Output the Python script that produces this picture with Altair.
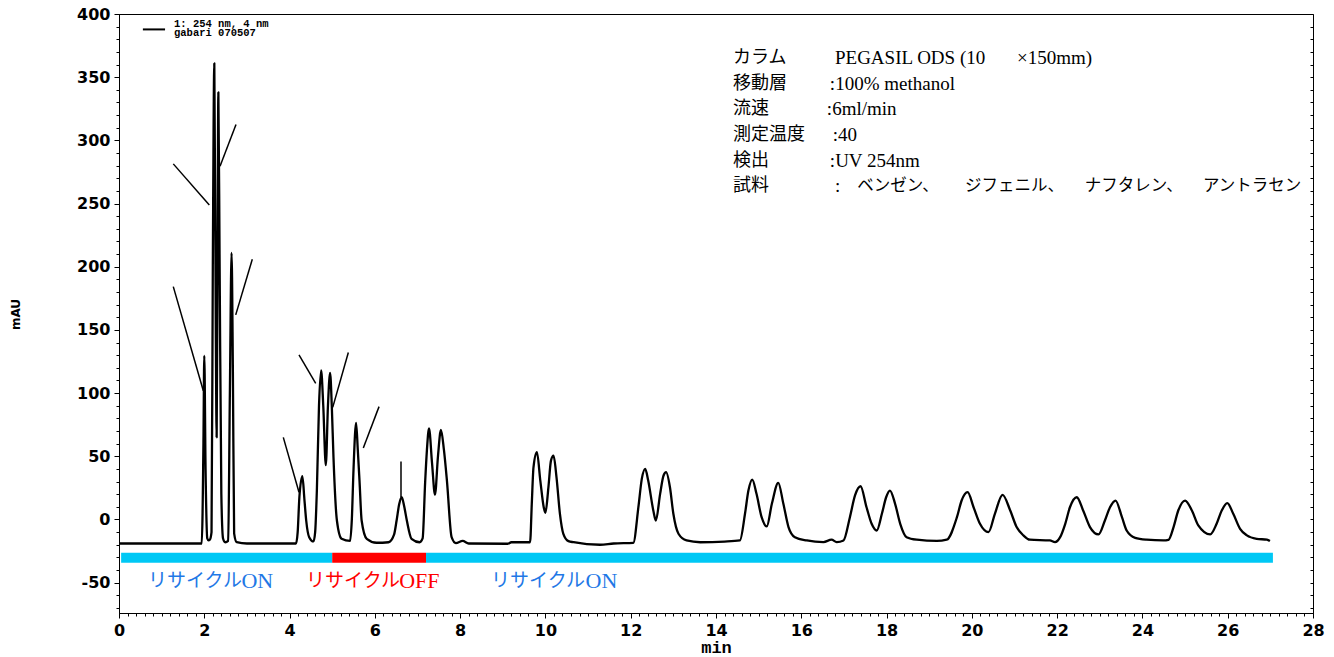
import altair as alt
import pandas as pd

# ---- chromatogram trace: retention time (min) and absorbance (mAU) ----
trace_time = [
    0.0, 1.0, 1.94, 1.98, 2.00, 2.03, 2.07, 2.10, 2.13, 2.17, 2.20, 2.235, 2.27, 2.29,
    2.31, 2.33, 2.36, 2.40, 2.44, 2.49, 2.56, 2.60, 2.64, 2.67, 2.70, 2.76, 3.0, 4.15,
    4.19, 4.23, 4.30, 4.35, 4.39, 4.46, 4.56, 4.60, 4.64, 4.69, 4.74, 4.79, 4.85, 4.90,
    4.95, 4.99, 5.03, 5.11, 5.22, 5.42, 5.46, 5.50, 5.56, 5.60, 5.64, 5.69, 5.81, 6.04,
    6.32, 6.45, 6.51, 6.57, 6.63, 6.69, 6.75, 6.86, 7.05, 7.12, 7.18, 7.22, 7.27, 7.34,
    7.41, 7.48, 7.55, 7.62, 7.69, 7.80, 7.90, 8.06, 8.2, 9.12, 9.2, 9.56,
    9.64, 9.68, 9.72, 9.80, 9.88, 9.96, 10.0, 10.07, 10.13, 10.19, 10.26, 10.34, 10.42,
    10.54, 10.66, 11.28, 11.6, 12.06,
    12.18, 12.26, 12.34, 12.41, 12.53, 12.59, 12.69, 12.77, 12.83, 12.92, 13.0, 13.12,
    13.31, 13.63, 14.2, 14.56,
    14.68, 14.76, 14.85, 14.95, 15.07, 15.19, 15.31, 15.46, 15.58, 15.70, 15.85, 16.13,
    16.52, 16.71, 16.83, 16.99,
    17.14, 17.26, 17.39, 17.53, 17.65, 17.77, 17.89, 17.99, 18.08, 18.20, 18.32, 18.47,
    18.71, 19.18, 19.41,
    19.65, 19.76, 19.90, 20.04, 20.19, 20.39, 20.54, 20.72, 20.90, 21.05, 21.21, 21.36,
    21.83, 21.95,
    22.07, 22.19, 22.30, 22.46, 22.61, 22.77, 22.97, 23.12, 23.24, 23.37, 23.52, 23.63,
    23.83, 24.10, 24.49, 24.61,
    24.73, 24.84, 25.0, 25.16, 25.31, 25.59, 25.74, 25.86, 25.99, 26.13, 26.29, 26.45,
    26.68, 26.92, 26.99,
]
trace_mau = [
    -19, -19, -19, 60, 129.5, 40, -15, -16.5, -16, -10, 200, 361, 150, 65,
    200, 338, 200, 20, -15, -18, -17, 100, 211, 120, -11, -18, -19, -19,
    -10, 17.6, 34.2, 15, -0.8, -14, -17.4, -10, 23, 90, 118, 90, 43, 90,
    116, 90, 49, -0.8, -15.3, -17, 0, 40, 76.4, 55, 30.8, -0.8, -15.3, -18.4,
    -18, -12, -0.8, 12, 17.6, 10, -0.8, -15.3, -18, -15, 30, 54.5, 72.1, 45,
    19.7, 50, 70.8, 55, 30.8, -14, -18.7, -17, -19, -19.2, -18, -18,
    -18, 12.4, 41.3, 53.2, 30.8, 9.7, 5.3, 25.5, 46.6, 50.5, 33.4, 4.5, -11.3,
    -17.1, -18, -20, -19, -18.5,
    9.7, 32.1, 40, 30.8, 7.1, -0.8, 20.3, 34.8, 37.4, 25.5, 4.5, -11.3,
    -16.6, -18, -17.5, -16.6,
    4.5, 22.9, 31.6, 20.3, 1.8, -5.5, 12.4, 29, 12.4, -6, -14, -16.6,
    -17.9, -16, -17.9, -16.6,
    1.8, 19, 26.3, 9.7, -3.4, -8.7, 4.5, 17.6, 22.9, 12.4, -3.4, -14,
    -16, -17, -16,
    1.8, 15, 21.6, 9.7, -3.4, -10, 4.5, 19.5, 7.1, -6, -12.6, -16,
    -16.6, -17.9,
    -14, -3.4, 9.7, 17.6, 7.1, -6, -11.8, -0.8, 9.7, 15, 1.8, -8.7,
    -14.5, -16, -16.6, -16.1,
    -6, 7.1, 15, 7.1, -4.7, -11.8, -3.4, 7.1, 12.9, 4.5, -7.4, -12.6,
    -15.3, -16, -17.1,
]

# ---- integrator peak markers (start and end of each segment) ----
marker_t1 = [1.273, 1.273, 2.744, 3.126, 4.221, 5.378, 6.098, 3.853, 6.613]
marker_v1 = [184.3, 281.4, 312.6, 205.9, 130.3, 132.1, 89.3, 65.0, 45.8]
marker_t2 = [1.977, 2.118, 2.369, 2.737, 4.613, 5.012, 5.729, 4.221, 6.613]
marker_v2 = [101.9, 248.8, 279.6, 161.9, 107.7, 88.7, 56.6, 21.6, 17.6]

# ---- recycle valve state band ----
recycle_start = [0.05, 5.0, 7.2]
recycle_end = [5.0, 7.2, 27.06]
recycle_fill = ["#00C8F5", "#FF0000", "#00C8F5"]
band_low, band_high = -34.2, -26.3
recycle_jp = ["リサイクル", "リサイクル", "リサイクル"]
recycle_en = ["ON", "OFF", "ON"]
recycle_text_color = ["#1F78E6", "#FF0000", "#1F78E6"]
recycle_jp_t = [0.68, 4.386, 8.724]
recycle_en_t = [2.87, 6.57, 10.94]
recycle_label_v = -49

# ---- measurement conditions ----
cond_labels = ["カラム", "移動層", "流速", "測定温度", "検出", "試料"]
cond_rows_v = [365, 344.5, 324.5, 304, 283.5, 264]
cond_label_t = 14.40
cond_values = ["PEGASIL ODS (10", ":100% methanol", ":6ml/min", ":40", ":UV 254nm", ":"]
cond_value_t = [16.79, 16.67, 16.60, 16.74, 16.67, 16.79]
column_size = "×150mm)"
column_size_t = 21.06
samples = ["ベンゼン、", "ジフェニル、", "ナフタレン、", "アントラセン"]
sample_t = [17.31, 19.84, 22.65, 25.42]

# ---- detector legend ----
legend_lines = ["1: 254 nm, 4 nm", "gabari 070507"]
legend_text_v = [392.0, 384.6]
legend_text_t = 1.29
legend_key_t = [0.56, 1.08]
legend_key_v = 387.8

# ---- tick values ----
x_major = list(range(0, 29, 2))
x_minor = [round(i * 0.2, 1) for i in range(141)]
y_major = list(range(-50, 401, 50))
y_minor = list(range(-70, 401, 10))

trace = pd.DataFrame({"t": trace_time, "mau": trace_mau})
markers = pd.DataFrame({"t1": marker_t1, "v1": marker_v1, "t2": marker_t2, "v2": marker_v2})
band = pd.DataFrame({"t1": recycle_start, "t2": recycle_end, "fill": recycle_fill,
                     "lo": [band_low] * 3, "hi": [band_high] * 3})
rec_jp = pd.DataFrame({"t": recycle_jp_t, "v": [recycle_label_v] * 3,
                       "txt": recycle_jp, "c": recycle_text_color})
rec_en = pd.DataFrame({"t": recycle_en_t, "v": [recycle_label_v] * 3,
                       "txt": recycle_en, "c": recycle_text_color})
cond_jp = pd.DataFrame({"t": [cond_label_t] * len(cond_labels),
                        "v": cond_rows_v, "txt": cond_labels})
sample_jp = pd.DataFrame({"t": sample_t, "v": [cond_rows_v[-1]] * len(samples),
                          "txt": samples})
cond_en = pd.DataFrame({"t": cond_value_t + [column_size_t],
                        "v": cond_rows_v + [cond_rows_v[0]],
                        "txt": cond_values + [column_size]})
legend_txt = pd.DataFrame({"t": [legend_text_t] * 2, "v": legend_text_v, "txt": legend_lines})
legend_key = pd.DataFrame({"t1": [legend_key_t[0]], "t2": [legend_key_t[1]], "v": [legend_key_v]})

xs = alt.Scale(domain=[0, 28], nice=False, zero=False)
ys = alt.Scale(domain=[-74, 400], nice=False, zero=False)

ink = dict(domainColor="black", tickColor="black", labelColor="black",
           titleColor="black", grid=False)

x_axis_major = alt.Axis(values=x_major, tickSize=5, tickWidth=1, labelFont="DejaVu Sans",
                        labelFontWeight="bold", labelFontSize=16, labelPadding=4,
                        labelFlush=False, labelOverlap=False, title="min",
                        titleFont="Liberation Mono", titleFontWeight="bold", titleFontSize=17,
                        titleY=34, titleBaseline="middle", orient="bottom", **ink)
y_axis_major = alt.Axis(values=y_major, tickSize=5, tickWidth=1, labelFont="DejaVu Sans",
                        labelFontWeight="bold", labelFontSize=16, labelPadding=4,
                        labelExpr="toString(datum.value)", labelOverlap=False,
                        title="mAU", titleFont="DejaVu Sans", titleFontWeight="bold",
                        titleFontSize=12, titleAngle=270, titleX=-104, titleY=300,
                        titleAlign="center", titleBaseline="middle", orient="left", **ink)
x_axis_minor = alt.Axis(values=x_minor, tickSize=3, labels=False, domain=False, title=None,
                        orient="bottom", **ink)
y_axis_minor = alt.Axis(values=y_minor, tickSize=3, labels=False, domain=False, title=None,
                        orient="left", **ink)
y_axis_right = alt.Axis(values=y_minor, tickSize=3, labels=False, domain=False, title=None,
                        orient="right", offset=-3, **ink)

band_layer = alt.Chart(band).mark_rect().encode(
    x=alt.X("t1:Q", scale=xs, axis=x_axis_minor),
    x2="t2:Q",
    y=alt.Y("lo:Q", scale=ys, axis=y_axis_minor),
    y2="hi:Q",
    color=alt.Color("fill:N", scale=None),
)

marker_layer = alt.Chart(markers).mark_rule(color="black", strokeWidth=1.5).encode(
    x=alt.X("t1:Q", scale=xs, axis=None),
    x2="t2:Q",
    y=alt.Y("v1:Q", scale=ys, axis=y_axis_right),
    y2="v2:Q",
)

trace_layer = alt.Chart(trace).mark_line(
    color="black", strokeWidth=2.3, interpolate="monotone", strokeJoin="round"
).encode(
    x=alt.X("t:Q", scale=xs, axis=x_axis_major),
    y=alt.Y("mau:Q", scale=ys, axis=y_axis_major),
)


def text_layer(df, **style):
    return alt.Chart(df).mark_text(align="left", baseline="middle", **style).encode(
        x=alt.X("t:Q", scale=xs, axis=None),
        y=alt.Y("v:Q", scale=ys, axis=None),
        text="txt:N",
    )


rec_jp_layer = text_layer(rec_jp, font="Noto Sans CJK JP", fontSize=19).encode(
    color=alt.Color("c:N", scale=None))
rec_en_layer = text_layer(rec_en, font="Liberation Serif", fontSize=22).encode(
    color=alt.Color("c:N", scale=None))
cond_jp_layer = text_layer(cond_jp, font="Noto Sans CJK JP", fontSize=18, color="black")
sample_jp_layer = text_layer(sample_jp, font="Noto Sans CJK JP", fontSize=16.5, color="black")
cond_en_layer = text_layer(cond_en, font="Liberation Serif", fontSize=19, color="black")
legend_txt_layer = text_layer(legend_txt, font="Liberation Mono", fontWeight="bold",
                              fontSize=10.5, color="black")
legend_key_layer = alt.Chart(legend_key).mark_rule(color="black", strokeWidth=2).encode(
    x=alt.X("t1:Q", scale=xs, axis=None),
    x2="t2:Q",
    y=alt.Y("v:Q", scale=ys, axis=None),
)

chart = alt.layer(
    band_layer, marker_layer, trace_layer,
    rec_jp_layer, rec_en_layer, cond_jp_layer, sample_jp_layer, cond_en_layer,
    legend_txt_layer, legend_key_layer,
).resolve_axis(
    x="independent", y="independent"
).properties(
    width=1194, height=599,
    autosize=alt.AutoSizeParams(type="none"),
    padding={"left": 119, "top": 14, "right": 21, "bottom": 44},
    background="white",
).configure_view(
    stroke="black", strokeWidth=1
)

chart.save("out.html", embed_options={"renderer": "svg", "actions": False})
